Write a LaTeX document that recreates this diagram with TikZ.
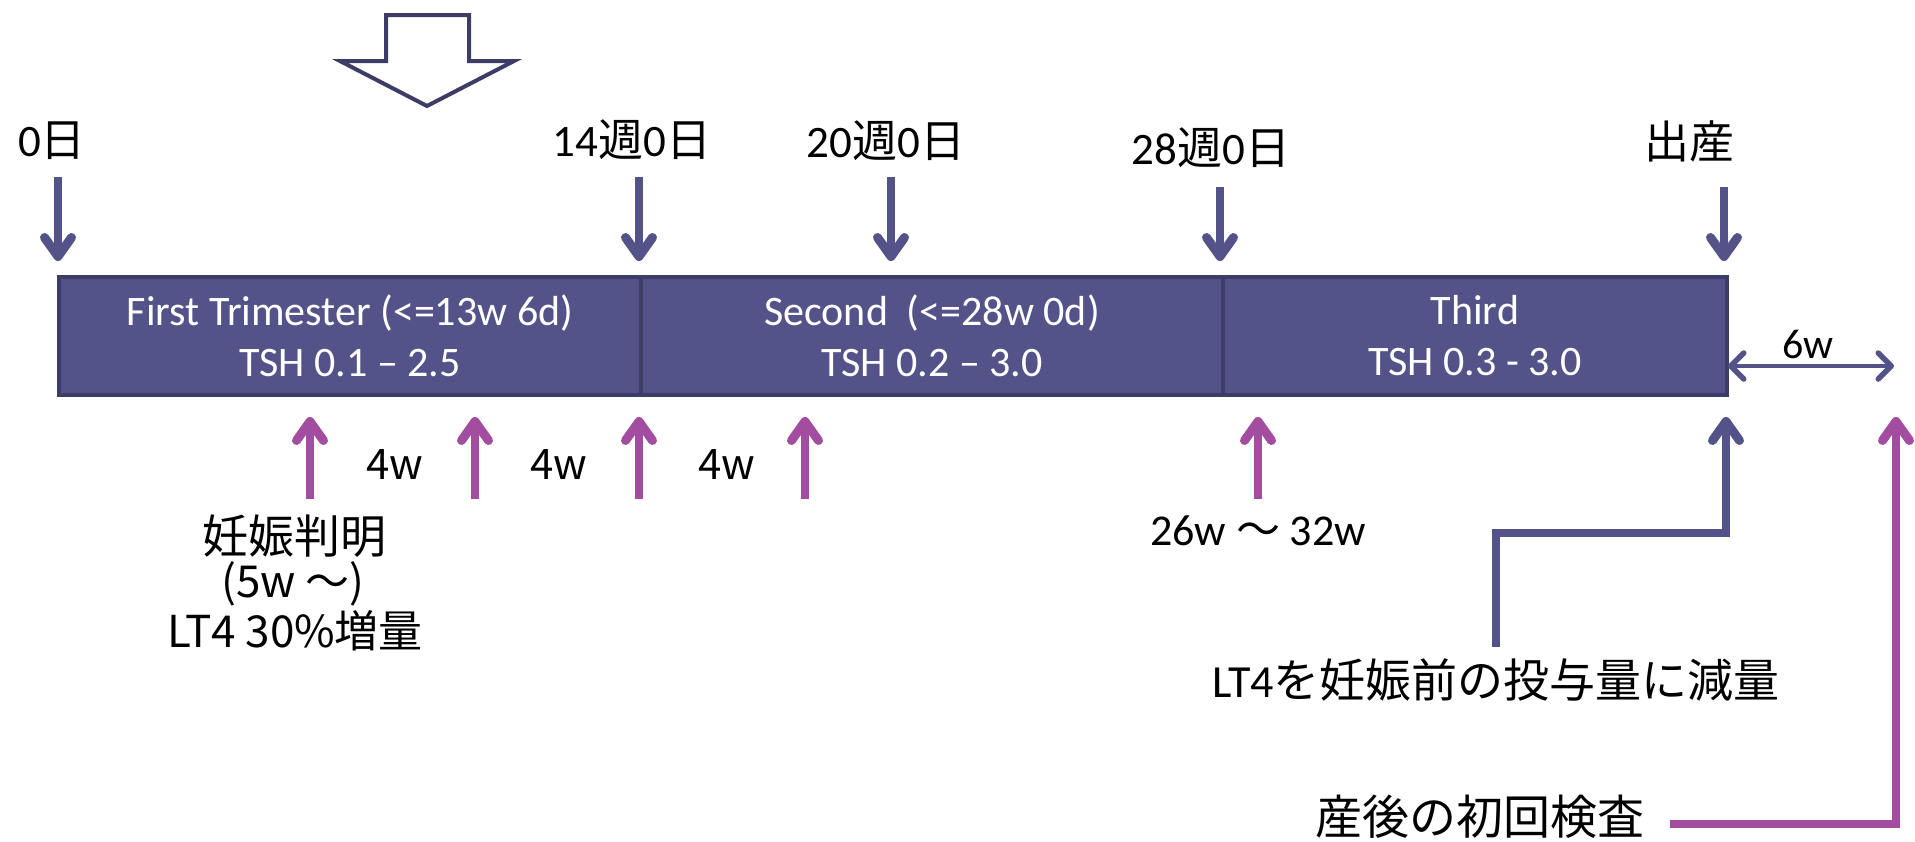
\documentclass[tikz,border=0pt]{standalone}
\usepackage{fontspec}
\setmainfont{Carlito}
\newfontfamily\jp{Noto Sans CJK JP}
\usetikzlibrary{arrows.meta}
\definecolor{navy}{HTML}{535389}
\definecolor{navyd}{HTML}{3C3C66}
\definecolor{purp}{HTML}{A24DA0}
\begin{document}
\begin{tikzpicture}[x=1pt,y=-1pt,
  seg/.style={draw=navyd,line width=4pt,fill=navy,text=white,align=center,
    font=\fontsize{42}{51}\selectfont,inner sep=0pt,minimum height=118pt,anchor=north west},
  toplab/.style={anchor=base,inner sep=0pt,font=\fontsize{45}{50}\selectfont},
  jplab/.style={anchor=base,inner sep=0pt,font=\fontsize{42}{50}\selectfont\jp},
  barrow/.style={draw=navy,line width=7.5pt,-{Straight Barb[length=19pt,width=27pt,line width=9pt,round]}},
  parrow/.style={draw=purp,line width=7.5pt,-{Straight Barb[length=19pt,width=27pt,line width=9pt,round]}},
]
\useasboundingbox (0,0) rectangle (1915,841);

% big hollow arrow
\draw[draw=navyd,line width=4pt,fill=white,line join=miter]
  (386,15) -- (469,15) -- (469,61) -- (514,61) -- (427,106) -- (340,61) -- (386,61) -- cycle;

% bar segments
\node[seg,minimum width=582pt] (s1) at (57,275) {First Trimester (<=13w 6d)\\TSH 0.1 – 2.5};
\node[seg,minimum width=582pt] (s2) at (639,275) {Second\ \ (<=28w 0d)\\TSH 0.2 – 3.0};
\node[seg,minimum width=504pt] (s3) at (1221,275) {Third\\TSH 0.3 - 3.0};

% top labels
\node[toplab] (d0) at (52,156) {0{\jp 日}};
\node[toplab] (d14) at (632,156) {14{\jp 週}0{\jp 日}};
\node[toplab] (d20) at (886,157) {20{\jp 週}0{\jp 日}};
\node[toplab] (d28) at (1211,164) {28{\jp 週}0{\jp 日}};
\node[toplab] (dbirth) at (1689,158) {\jp 出産};

% down arrows
\coordinate (a0s) at (58,177);   \coordinate (a0e) at (58,261);
\coordinate (a14s) at (639,177); \coordinate (a14e) at (639,261);
\coordinate (a20s) at (891,177); \coordinate (a20e) at (891,261);
\coordinate (a28s) at (1220,187); \coordinate (a28e) at (1220,261);
\coordinate (abs) at (1724,187); \coordinate (abe) at (1724,261);
\draw[barrow] (a0s) -- (a0e);
\draw[barrow] (a14s) -- (a14e);
\draw[barrow] (a20s) -- (a20e);
\draw[barrow] (a28s) -- (a28e);
\draw[barrow] (abs) -- (abe);

% 6w
\coordinate (w6s) at (1728,366); \coordinate (w6e) at (1894,366);
\draw[draw=navy,line width=4.5pt,{Straight Barb[length=13pt,width=26pt,line width=5.5pt,round]}-{Straight Barb[length=13pt,width=26pt,line width=5.5pt,round]}] (w6s) -- (w6e);
\node[toplab,font=\fontsize{42}{50}\selectfont] (l6w) at (1808,358) {6w};

% purple up arrows
\coordinate (p1s) at (310,499); \coordinate (p1e) at (310,417);
\coordinate (p2s) at (475,499); \coordinate (p2e) at (475,417);
\coordinate (p3s) at (639,499); \coordinate (p3e) at (639,417);
\coordinate (p4s) at (805,499); \coordinate (p4e) at (805,417);
\coordinate (p5s) at (1258,499); \coordinate (p5e) at (1258,417);
\draw[parrow] (p1s) -- (p1e);
\draw[parrow] (p2s) -- (p2e);
\draw[parrow] (p3s) -- (p3e);
\draw[parrow] (p4s) -- (p4e);
\draw[parrow] (p5s) -- (p5e);

\node[jplab] (w4a) at (395,479) {4w};
\node[jplab] (w4b) at (559,479) {4w};
\node[jplab] (w4c) at (727,479) {4w};

\node[jplab,font=\fontsize{46}{50}\selectfont\jp] (preg1) at (294,553) {妊娠判明};
\node[jplab,font=\fontsize{44}{50}\selectfont\jp] (preg2) at (293,597) {(5w 〜)};
\node[jplab,font=\fontsize{44}{50}\selectfont\jp] (preg3) at (295,647) {LT4 30\%増量};

\node[toplab,font=\fontsize{44}{50}\selectfont] (w2632) at (1258,545) {26w {\jp 〜} 32w};

% reduce LT4
\node[toplab,font=\fontsize{46}{50}\selectfont] (lt4) at (1496,697) {LT4{\jp を妊娠前の投与量に減量}};
\coordinate (bls) at (1496,647);
\coordinate (blc1) at (1496,533);
\coordinate (blc2) at (1726,533);
\coordinate (ble) at (1726,417);
\draw[barrow,line join=miter] (bls) -- (blc1) -- (blc2) -- (ble);

% postpartum
\node[toplab,font=\fontsize{47}{50}\selectfont\jp] (pp) at (1480,834) {産後の初回検査};
\coordinate (pls) at (1670,824);
\coordinate (plc) at (1896,824);
\coordinate (ple) at (1896,417);
\draw[parrow,line join=miter] (pls) -- (plc) -- (ple);
\end{tikzpicture}
\end{document}
